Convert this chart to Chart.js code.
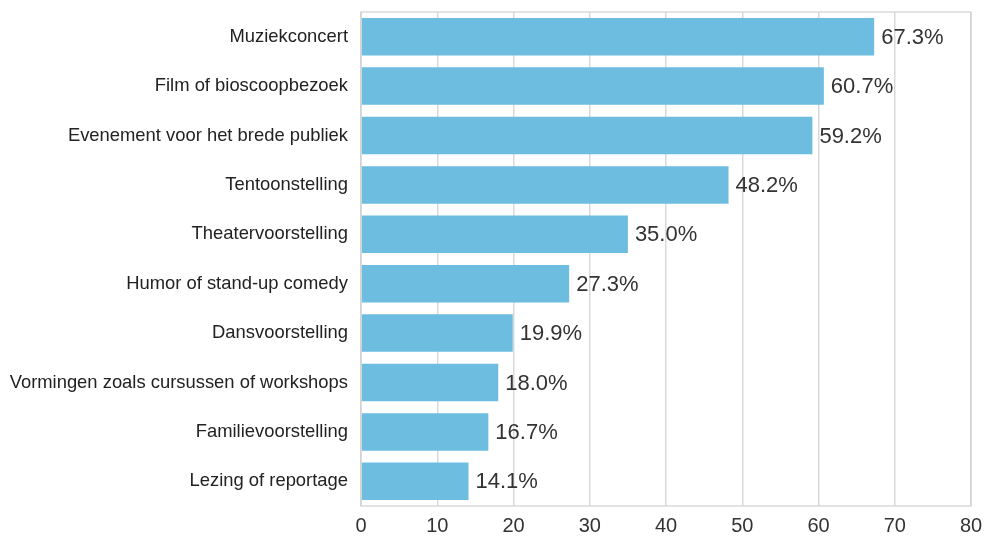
<!DOCTYPE html>
<html>
<head>
<meta charset="utf-8">
<script src="https://cdn.jsdelivr.net/npm/chart.js@4"></script>
<style>
  html, body { margin: 0; padding: 0; background: #fff; }
  #wrap { width: 984px; height: 536px; }
</style>
</head>
<body>
<div id="wrap"><canvas id="chart" width="984" height="536"></canvas></div>
<script>
const categories = [
    "Muziekconcert",
    "Film of bioscoopbezoek",
    "Evenement voor het brede publiek",
    "Tentoonstelling",
    "Theatervoorstelling",
    "Humor of stand-up comedy",
    "Dansvoorstelling",
    "Vormingen zoals cursussen of workshops",
    "Familievoorstelling",
    "Lezing of reportage"
];
const percentages = [67.3, 60.7, 59.2, 48.2, 35.0, 27.3, 19.9, 18.0, 16.7, 14.1];
const xTicks = [0, 10, 20, 30, 40, 50, 60, 70, 80];

const font = "'Liberation Sans', Arial, sans-serif";

// frame round the plot area
const plotFrame = {
    id: "plotFrame",
    afterDatasetsDraw(chart) {
        const a = chart.chartArea;
        const ctx = chart.ctx;
        ctx.save();
        ctx.strokeStyle = "#d0d0d0";
        ctx.lineWidth = 1.2;
        ctx.strokeRect(a.left, a.top, a.right - a.left, a.bottom - a.top);
        ctx.restore();
    }
};

// value labels at bar ends
const valueLabels = {
    id: "valueLabels",
    afterDatasetsDraw(chart) {
        const ctx = chart.ctx;
        const meta = chart.getDatasetMeta(0);
        ctx.save();
        ctx.font = "22px " + font;
        ctx.fillStyle = "#333";
        ctx.textAlign = "left";
        ctx.textBaseline = "middle";
        meta.data.forEach((bar, i) => {
            ctx.fillText(percentages[i].toFixed(1) + "%", bar.x + 7, bar.y + 1);
        });
        ctx.restore();
    }
};

new Chart(document.getElementById("chart"), {
    type: "bar",
    data: {
        labels: categories,
        datasets: [{
            data: percentages,
            backgroundColor: "#6cbde0",
            borderWidth: 0,
            barPercentage: 0.76,
            categoryPercentage: 1
        }]
    },
    options: {
        indexAxis: "y",
        responsive: false,
        animation: false,
        layout: { padding: { top: 12, right: 13, left: 0, bottom: 0 } },
        plugins: { legend: { display: false }, tooltip: { enabled: false } },
        scales: {
            x: {
                min: 0,
                max: 80,
                afterBuildTicks: scale => { scale.ticks = xTicks.map(v => ({ value: v })); },
                grid: { color: "#d9d9d9", lineWidth: 1.5, drawTicks: false },
                border: { display: false },
                ticks: { color: "#333", font: { size: 20, family: font }, padding: 8, maxRotation: 0 },
                afterFit: scale => {
                    scale.height = 30;
                    scale.paddingLeft = 0;
                    scale.paddingRight = 0;
                }
            },
            y: {
                grid: { display: false, drawTicks: false },
                border: { display: false },
                ticks: { color: "#222", font: { size: 18.4, family: font }, padding: 13 },
                afterFit: scale => {
                    scale.width = 361;
                    scale.paddingTop = 0;
                    scale.paddingBottom = 0;
                }
            }
        }
    },
    plugins: [plotFrame, valueLabels]
});
</script>
</body>
</html>
